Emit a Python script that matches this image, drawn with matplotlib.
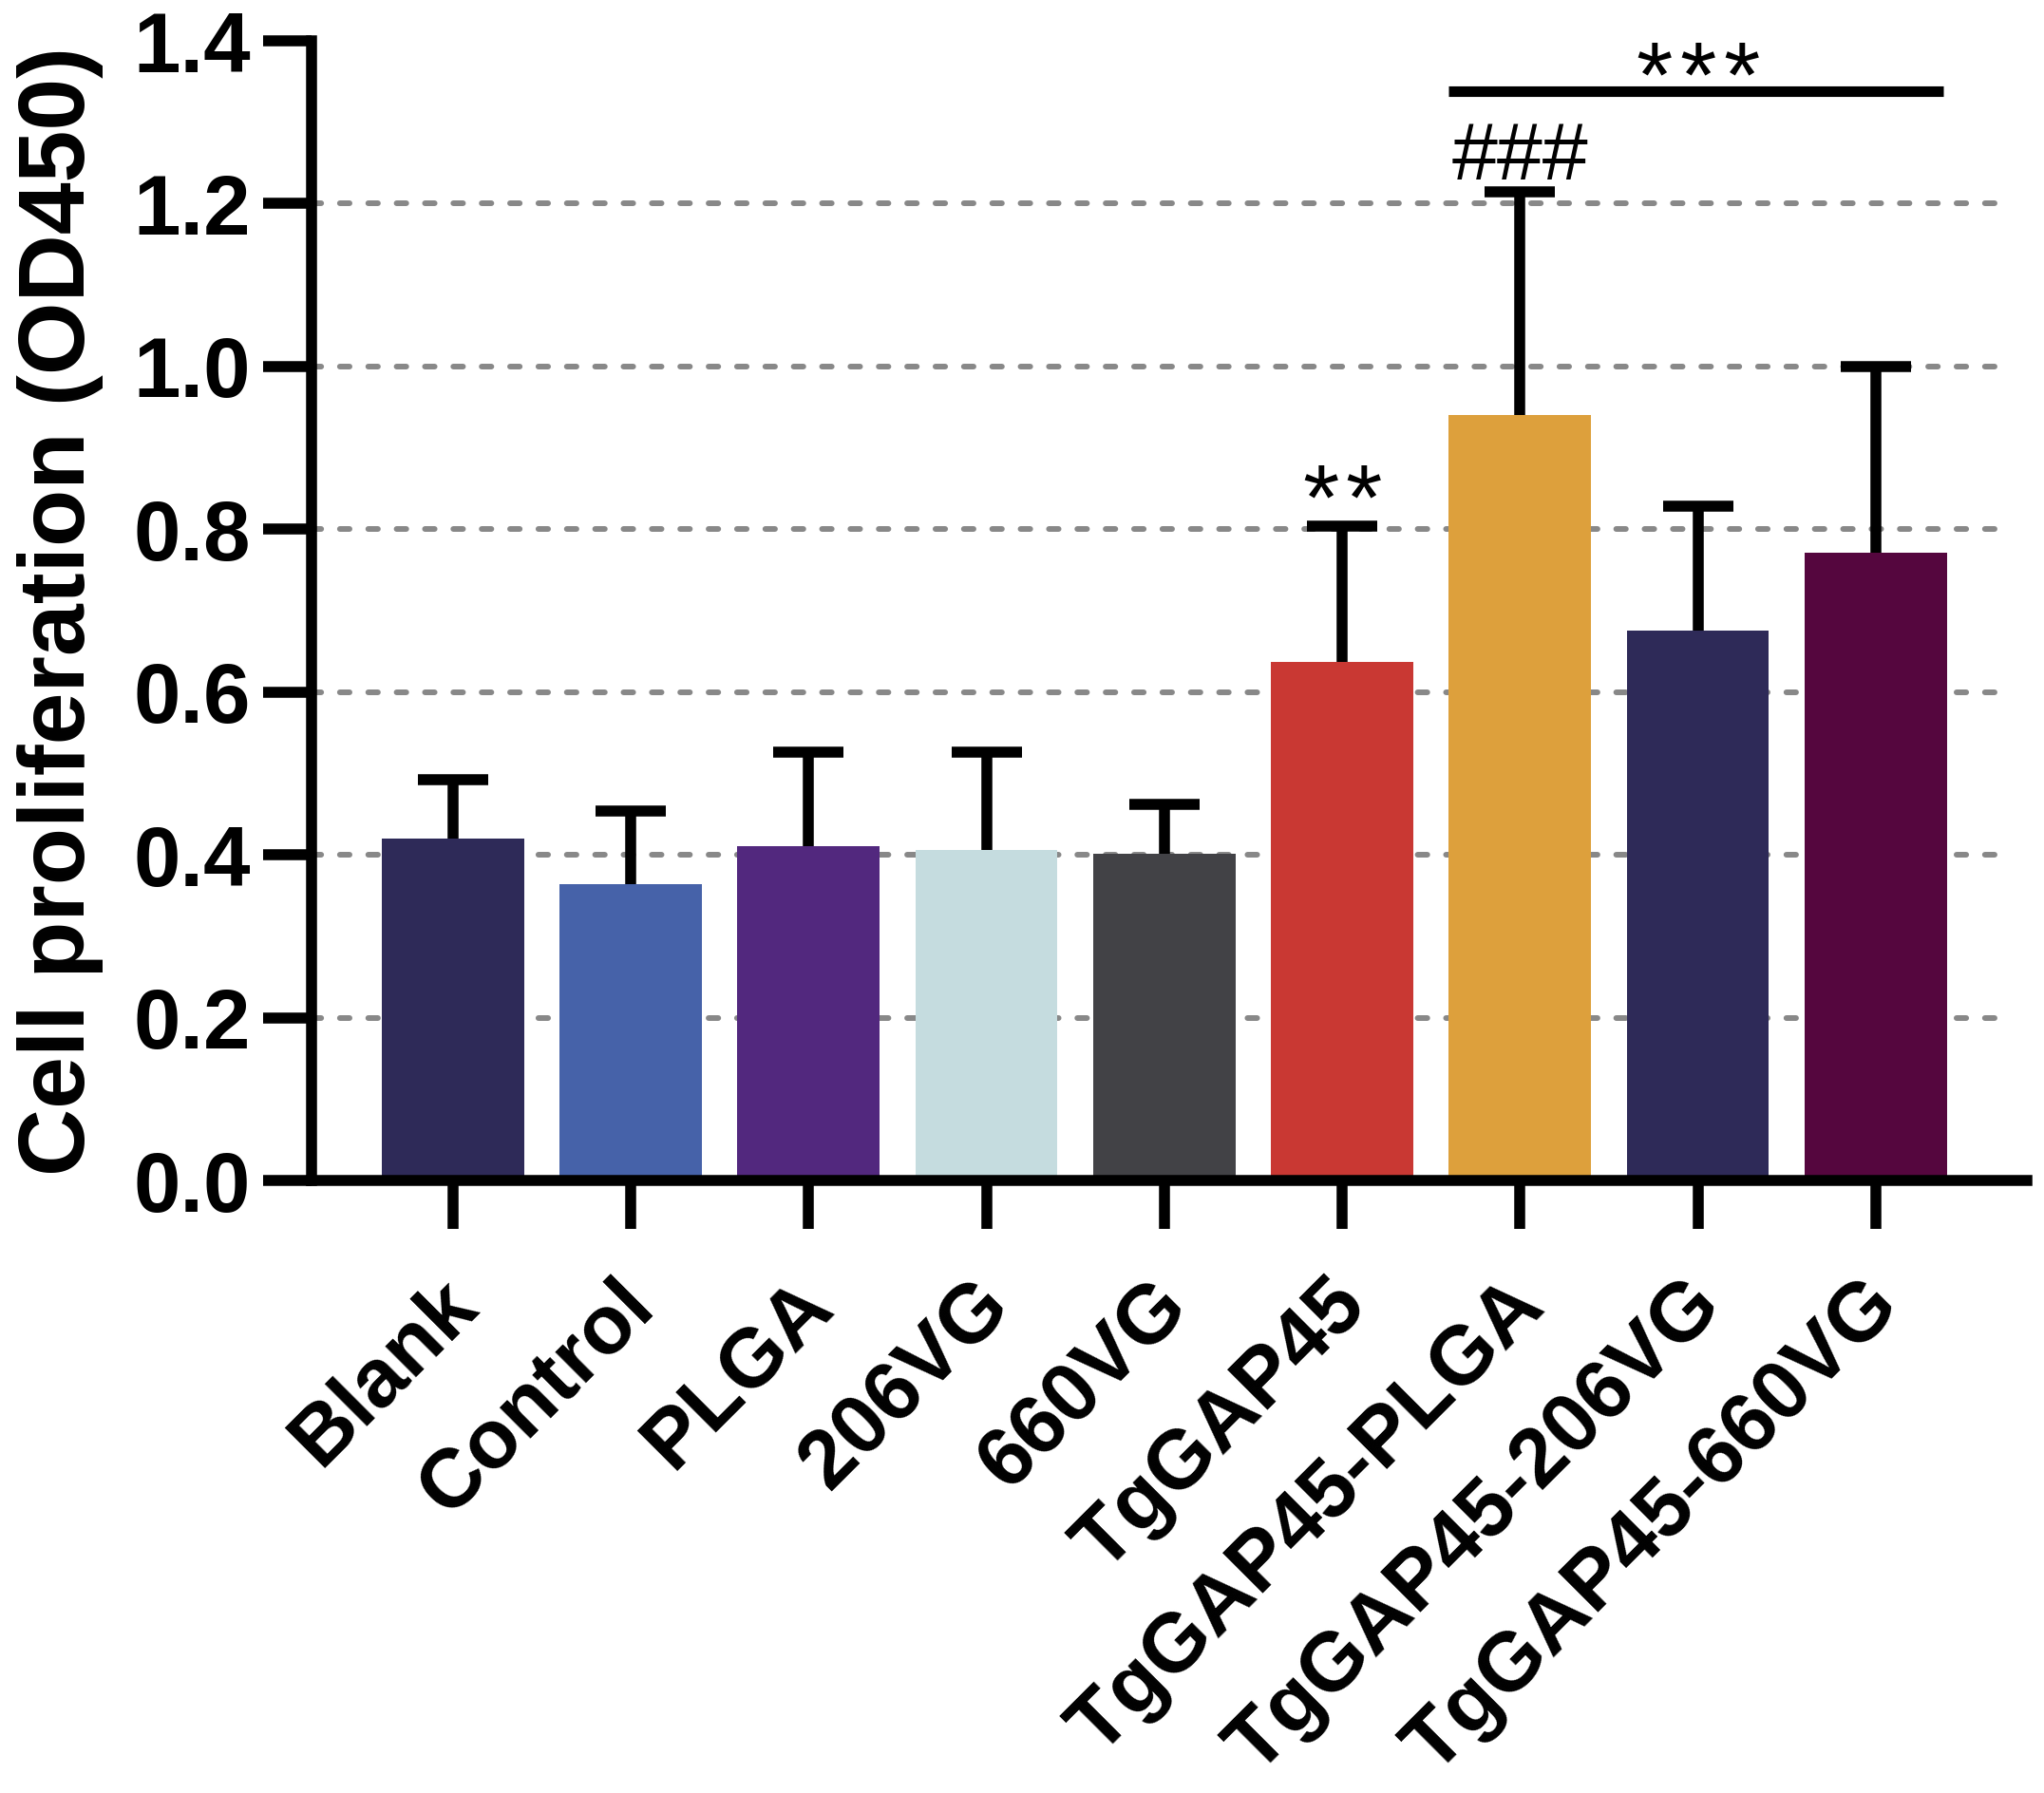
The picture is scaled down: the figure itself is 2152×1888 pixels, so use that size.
import numpy as np
import matplotlib
matplotlib.use("Agg")
import matplotlib.pyplot as plt
from matplotlib.transforms import ScaledTranslation

plt.rcParams['font.family'] = ['Liberation Sans', 'DejaVu Sans']

# data
groups = ["Blank", "Control", "PLGA", "206VG", "660VG", "TgGAP45",
          "TgGAP45-PLGA", "TgGAP45-206VG", "TgGAP45-660VG"]
means = [0.420, 0.364, 0.411, 0.406, 0.401, 0.637, 0.940, 0.675, 0.771]
err_top = [0.492, 0.454, 0.526, 0.526, 0.462, 0.804, 1.215, 0.828, 1.000]
colors = ["#2E2A58", "#4662A9", "#52287E", "#C5DCDF", "#424246",
          "#C93833", "#DDA03C", "#2E2A58", "#55063E"]

yticks = [0.0, 0.2, 0.4, 0.6, 0.8, 1.0, 1.2, 1.4]
grid_levels = [0.2, 0.4, 0.6, 0.8, 1.0, 1.2]

# significance: asterisks (count, x, baseline y), hashes (text, x, y)
stars = [(2, 5, 0.800), (3, 7, 1.319)]
hashes = [("###", 6, 1.230)]
bracket_x = [5.6, 8.38]
bracket_y = 1.338

x = np.arange(len(groups))
errs = np.array(err_top) - np.array(means)

fig = plt.figure(figsize=(21.52, 18.88), dpi=100)
ax = fig.add_axes([0.1524, 0.3416, 0.8392, 0.6356])

lw = 8.3
for g in grid_levels:
    ax.axhline(g, xmin=0, xmax=0.985, color="#888888", lw=4.3,
               linestyle=(0, (1.7, 3.3)), dash_capstyle="round", zorder=0)

ax.bar(x, means, width=0.8, color=colors, zorder=2)
eb = ax.errorbar(x, means, yerr=[np.zeros(len(x)), errs], fmt="none",
                 ecolor="black", elinewidth=lw, capsize=26.6, capthick=lw,
                 zorder=3)
# drop the lower caps (they sit on the bar tops)
for cap in eb[1]:
    if np.allclose(cap.get_ydata(), means):
        cap.set_visible(False)

pitch = 33  # points between asterisks
for n, xi, yi in stars:
    for k in range(n):
        ax.annotate("*", xy=(xi, yi), xytext=((k - (n - 1) / 2) * pitch, 0),
                    textcoords="offset points", fontsize=71,
                    ha="center", va="baseline", zorder=4)
for txt, xi, yi in hashes:
    ax.text(xi, yi, txt, fontsize=62, ha="center", va="baseline", zorder=4)
ax.plot(bracket_x, [bracket_y, bracket_y], color="black", lw=8,
        solid_capstyle="butt", clip_on=False, zorder=4)

ax.set_xlim(-0.795, 8.85)
ax.set_ylim(0, 1.4)

for s in ["top", "right"]:
    ax.spines[s].set_visible(False)
for s in ["left", "bottom"]:
    ax.spines[s].set_linewidth(lw)
    ax.spines[s].set_zorder(5)

ax.set_yticks(yticks)
ax.set_yticklabels(["%.1f" % v for v in yticks], fontsize=64, fontweight="bold")
ax.set_xticks(x)
ax.set_xticklabels(groups, fontsize=63, fontweight="bold", rotation=45,
                   ha="right", va="baseline", rotation_mode="anchor")
ax.tick_params(axis="y", length=37, width=lw, pad=9)
ax.tick_params(axis="x", length=37, width=lw, pad=60)

shift = ScaledTranslation(20 / 72, 0, fig.dpi_scale_trans)
for lab in ax.get_xticklabels():
    lab.set_transform(lab.get_transform() + shift)

ax.set_ylabel("Cell proliferation (OD450)", fontsize=71, fontweight="bold")
ax.yaxis.set_label_coords(-0.121, 0.5)

fig.savefig("out.png", dpi=100)
